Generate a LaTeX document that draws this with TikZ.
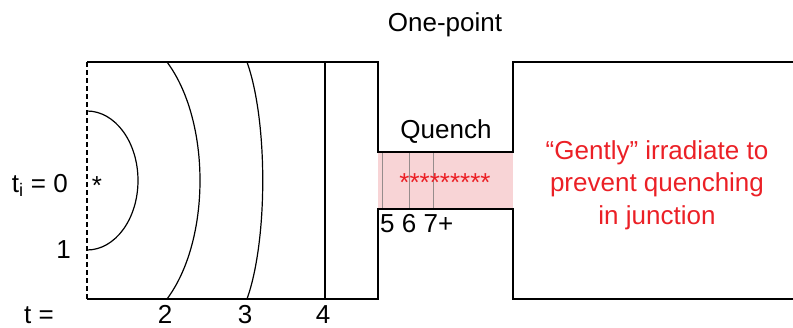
\documentclass[tikz,border=0pt]{standalone}
\usepackage{fontspec}
\setmainfont{Liberation Sans}
\definecolor{notered}{RGB}{235,32,38}
\definecolor{quenchpink}{RGB}{248,212,214}
\definecolor{wallgray}{RGB}{150,140,140}
\tikzset{
  lbl/.style={inner sep=0pt, anchor=base, font=\fontsize{26}{32.5}\selectfont},
  wall/.style={line width=1.7pt, line join=miter},
  front/.style={line width=1.2pt}
}
\begin{document}
\begin{tikzpicture}[x=1pt,y=-1pt]
    \useasboundingbox (0,0) rectangle (793,327);

    % Junction
    \fill[quenchpink] (378,152) rectangle (513,209);
    \foreach \xx in {382,409,433}
        \draw[wallgray, line width=1pt] (\xx,152) -- (\xx,209);

    % Walls
    \draw[wall] (87,62) -- (378,62) -- (378,152) -- (513,152) -- (513,62) -- (800,62);
    \draw[wall] (87,299) -- (378,299) -- (378,209) -- (513,209) -- (513,299) -- (800,299);
    \draw[line width=1.2pt, dash pattern=on 5pt off 3pt] (87,62) -- (87,299);

    % Fronts
    \draw[front] (87,111) .. controls (115.2,111) and (138,142.1) .. (138,180.5)
                          .. controls (138,218.9) and (115.2,250) .. (87,250);
    \draw[front] (167,62) .. controls (211,121) and (211,240) .. (167,299);
    \draw[front] (247,62) .. controls (268,121) and (268,240) .. (247,299);
    \draw[line width=1.4pt] (325,62) -- (325,299);

    % Labels
    \node[lbl] (title) at (445,31) {One-point};
    \node[lbl] (quench) at (446,138) {Quench};
    \node[lbl, text=notered, align=center, anchor=north] (note) at (657,140)
        {“Gently” irradiate to\\prevent quenching\\in junction};
    \node[lbl, text=notered] (stars) at (445,191) {*********};
    \node[lbl, anchor=base west] (steps) at (380,232) {5 6 7+};
    \node[lbl] (origin) at (97,194) {*};

    % Time labels
    \node[lbl, anchor=base east] (ti0) at (68,192) {t\textsubscript{i} = 0};
    \node[lbl, anchor=base east] (t1) at (71,258) {1};
    \node[lbl, anchor=base east] (tlabel) at (54,323) {t =};
    \node[lbl] (t2) at (165,323) {2};
    \node[lbl] (t3) at (245,323) {3};
    \node[lbl] (t4) at (323,323) {4};

\end{tikzpicture}
\end{document}
